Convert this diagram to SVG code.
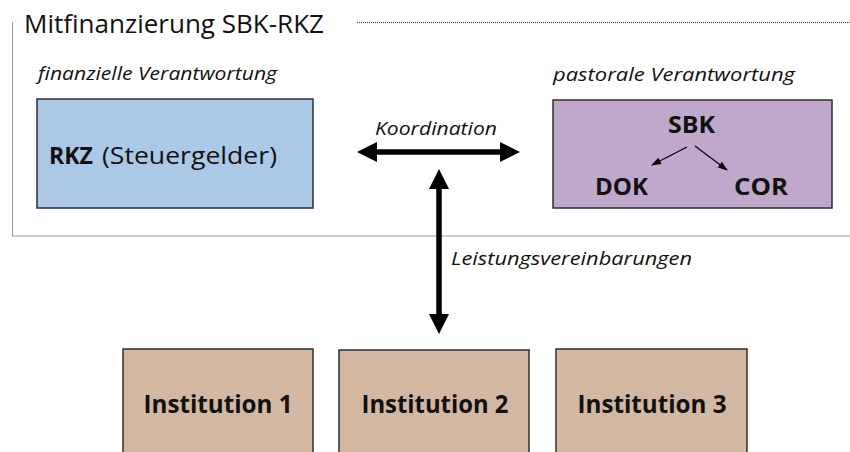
<svg xmlns="http://www.w3.org/2000/svg" width="850" height="452" viewBox="0 0 850 452">
  <defs>
    <style>
      .frame { fill: none; stroke: #3a3a3a; stroke-width: 1; stroke-dasharray: 1 1; }
      .box { stroke: #2e2e2e; stroke-width: 1.5; }
      .blue { fill: #abc8e6; }
      .purple { fill: #c0a8ca; }
      .tan { fill: #d2b8a2; }
      .t { font-family: "Open Sans", "Noto Sans", "Liberation Sans", sans-serif; fill: #111; }
      .it { font-style: italic; }
      .b { font-weight: bold; }
      .big { stroke: #000; stroke-width: 5.5; fill: none; }
      .small { stroke: #000; stroke-width: 1.2; fill: none; }
    </style>
    <marker id="bigHead" markerUnits="userSpaceOnUse" markerWidth="20" markerHeight="20" refX="2" refY="10" orient="auto-start-reverse" overflow="visible">
      <path d="M0,0 L20,10 L0,20 Z" fill="#000"/>
    </marker>
    <marker id="smallHead" markerUnits="userSpaceOnUse" markerWidth="10" markerHeight="8" refX="9" refY="3.5" orient="auto" overflow="visible">
      <path d="M0,0 L10,3.5 L0,7 Z" fill="#000"/>
    </marker>
  </defs>

  <rect width="850" height="452" fill="#ffffff"/>

  <g id="frame">
    <path class="frame" d="M357,22.5 H850 M12.5,22.5 V236 M12.5,236 H850"/>
    <text class="t" x="24" y="33" font-size="26" textLength="300" lengthAdjust="spacingAndGlyphs">Mitfinanzierung SBK-RKZ</text>
    <text class="t it" x="38" y="80" font-size="18" textLength="239" lengthAdjust="spacingAndGlyphs">finanzielle Verantwortung</text>
    <text class="t it" x="553" y="81" font-size="18" textLength="242" lengthAdjust="spacingAndGlyphs">pastorale Verantwortung</text>
  </g>

  <g id="node-rkz">
    <rect class="box blue" x="37" y="99" width="276" height="109"/>
    <text class="t b" x="49" y="164" font-size="24" textLength="44" lengthAdjust="spacingAndGlyphs">RKZ</text>
    <text class="t" x="102" y="164" font-size="24" textLength="175" lengthAdjust="spacingAndGlyphs">(Steuergelder)</text>
  </g>

  <g id="node-sbk">
    <rect class="box purple" x="553" y="100" width="279" height="108"/>
    <text class="t b" x="668" y="133" font-size="24" textLength="47" lengthAdjust="spacingAndGlyphs">SBK</text>
    <text class="t b" x="595" y="195" font-size="24" textLength="53" lengthAdjust="spacingAndGlyphs">DOK</text>
    <text class="t b" x="734" y="195" font-size="24" textLength="54" lengthAdjust="spacingAndGlyphs">COR</text>
    <line class="small" x1="687" y1="147" x2="652" y2="165" marker-end="url(#smallHead)"/>
    <line class="small" x1="695" y1="146" x2="727" y2="170" marker-end="url(#smallHead)"/>
  </g>

  <g id="node-inst1">
    <rect class="box tan" x="123" y="349" width="190" height="120"/>
    <text class="t b" x="218" y="413" font-size="25" text-anchor="middle" textLength="149" lengthAdjust="spacingAndGlyphs">Institution 1</text>
  </g>
  <g id="node-inst2">
    <rect class="box tan" x="339" y="350" width="190" height="120"/>
    <text class="t b" x="435" y="413" font-size="25" text-anchor="middle" textLength="147" lengthAdjust="spacingAndGlyphs">Institution 2</text>
  </g>
  <g id="node-inst3">
    <rect class="box tan" x="556" y="349" width="191" height="120"/>
    <text class="t b" x="652" y="413" font-size="25" text-anchor="middle" textLength="149" lengthAdjust="spacingAndGlyphs">Institution 3</text>
  </g>

  <g id="connectors">
    <line class="big" x1="375" y1="152" x2="502" y2="152" marker-start="url(#bigHead)" marker-end="url(#bigHead)"/>
    <text class="t it" x="375" y="135" font-size="19" textLength="122" lengthAdjust="spacingAndGlyphs">Koordination</text>
    <line class="big" x1="439" y1="187" x2="439" y2="316" marker-start="url(#bigHead)" marker-end="url(#bigHead)"/>
    <text class="t it" x="451" y="265" font-size="19" textLength="241" lengthAdjust="spacingAndGlyphs">Leistungsvereinbarungen</text>
  </g>
</svg>
